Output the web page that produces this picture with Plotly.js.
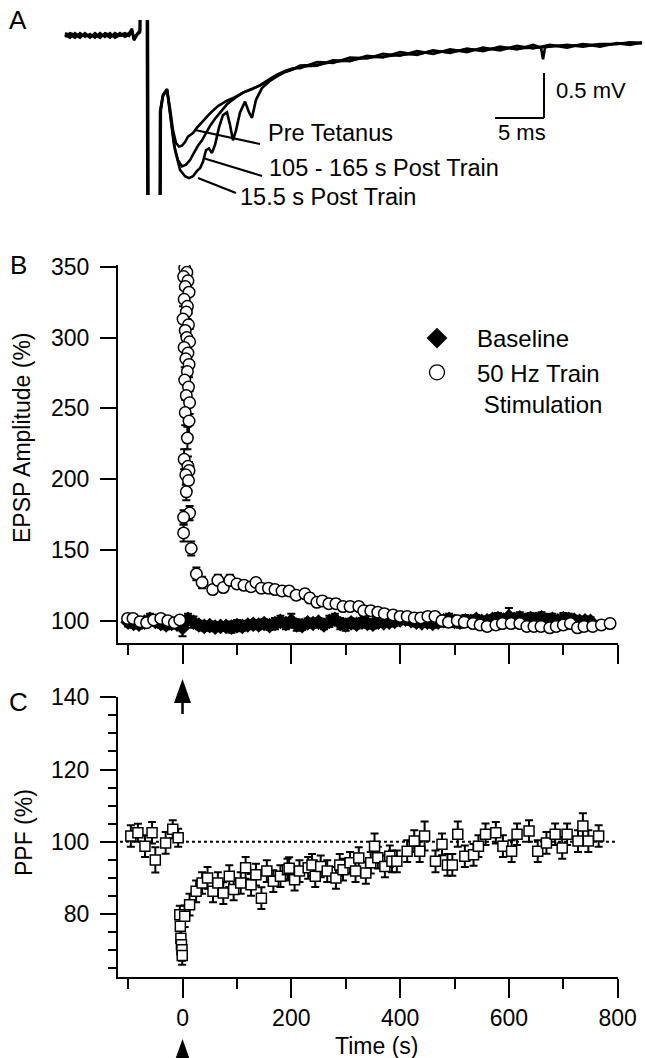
<!DOCTYPE html>
<html><head><meta charset="utf-8">
<script src="https://cdn.plot.ly/plotly-3.0.1.min.js"></script>
<style>html,body{margin:0;padding:0;background:#fff;}#plot{width:645px;height:1058px;}</style>
</head><body><div id="plot"></div>
<script>
// ---------- Panel A: EPSP sweeps (time in ms from stimulus, voltage in mV) ----------
const sweepBaseT = [-8.47,-7.96,-7.45,-6.94,-6.43,-5.92,-5.41,-4.90,-4.39,-3.88,-3.37,-2.86,-2.35,-1.94,-1.63,-1.43,-1.22,-1.02,-0.82];
const tailT = [15.51,17.24,18.88,20.61,22.35,23.98,25.71,27.45,29.08,30.82,32.55,34.18,35.92,37.65,39.29,41.02,42.76,44.39,46.12,47.86,49.18,50.41];

const preT = sweepBaseT.concat([-0.71,-0.10,0.05,1.17,1.28,1.53,
  1.94,2.24,2.55,2.86,3.16,3.47,3.78,4.08,4.59,5.00,5.51,6.33,7.14,8.06,8.88,9.69,10.61,11.43,12.24,13.16,13.98,14.80], tailT);
const preV = [0,-0.03,0.02,-0.02,0.01,-0.03,0.02,-0.02,0.01,-0.03,0.02,-0.01,0,0.02,0.07,-0.06,-0.02,0.02,0.04,
  1.5,1.5,-4,-4,-0.83,-0.67,
  -0.61,-0.81,-1.06,-1.20,-1.24,-1.23,-1.19,-1.13,-1.09,-1.03,-0.97,-0.87,-0.79,-0.73,-0.69,-0.64,-0.60,-0.56,-0.50,-0.44,-0.40,-0.37,
  -0.37,-0.30,-0.31,-0.25,-0.26,-0.21,-0.23,-0.18,-0.21,-0.16,-0.19,-0.14,-0.17,-0.12,-0.15,-0.11,-0.14,-0.10,-0.13,-0.09,-0.11,-0.08];

const midT = sweepBaseT.concat([-0.76,-0.15,0.0,1.12,1.23,1.50,
  1.94,2.24,2.65,3.06,3.47,3.88,4.29,4.69,5.10,5.51,5.92,6.33,6.84,7.35,8.06,8.88,9.69,10.61,11.43,12.24,13.16,13.98,14.80,
  15.51,17.24,18.88,20.61,22.35,23.98,25.71,27.45,29.08,30.82,32.55,34.18,35.92,37.65,39.29,40.10,40.31,40.51,41.02,42.76,44.39,46.12,47.86,49.18,50.41]);
const midV = [0.02,0,-0.03,0.02,-0.02,0.01,-0.03,0.02,-0.02,0.02,-0.03,0,0.02,-0.01,0.05,-0.04,0,0.03,0.05,
  1.5,1.5,-4,-4,-0.85,-0.68,
  -0.61,-0.89,-1.22,-1.39,-1.46,-1.44,-1.39,-1.31,-1.23,-1.17,-1.09,-1.01,-0.93,-0.86,-0.77,-0.70,-0.64,-0.60,-0.56,-0.51,-0.46,-0.41,-0.38,
  -0.35,-0.34,-0.28,-0.29,-0.23,-0.25,-0.19,-0.22,-0.17,-0.20,-0.15,-0.18,-0.13,-0.16,-0.11,-0.14,-0.27,-0.14,-0.12,-0.12,-0.11,-0.11,-0.10,-0.08,-0.09];

const earlyT = sweepBaseT.concat([-0.66,-0.05,0.10,1.20,1.31,1.55,
  1.94,2.35,2.76,3.27,3.78,4.18,4.59,5.00,5.31,5.61,5.92,6.22,6.53,6.84,7.24,7.65,8.06,8.37,8.67,8.98,9.39,9.90,10.31,10.61,11.02,11.63,12.45,13.16,13.98,14.80], tailT);
const earlyV = [-0.02,0.02,0,-0.03,0.02,-0.02,0,-0.03,0.02,0,-0.02,0.02,-0.02,0,0.03,-0.05,-0.01,0.01,0.03,
  1.5,1.5,-4,-4,-0.84,-0.66,
  -0.60,-0.94,-1.28,-1.50,-1.57,-1.59,-1.57,-1.51,-1.48,-1.41,-1.28,-1.26,-1.31,-1.22,-1.03,-0.89,-0.86,-1.00,-1.17,-1.06,-0.86,-0.74,-0.86,-0.92,-0.72,-0.59,-0.51,-0.46,-0.41,-0.38,
  -0.34,-0.33,-0.30,-0.28,-0.25,-0.24,-0.22,-0.21,-0.18,-0.19,-0.16,-0.17,-0.14,-0.15,-0.14,-0.13,-0.11,-0.13,-0.10,-0.10,-0.09,-0.09];

const sweepLabels = ["Pre Tetanus", "105 - 165 s Post Train", "15.5 s Post Train"];
const scaleBarMs = 5, scaleBarMv = 0.5;

// ---------- Panel B: EPSP amplitude (%) ----------
const baselineT = [-100,-90,-80,-70,-60,-50,-40,-30,-20,-10,0,10,20,30,40,50,60,70,80,90,100,110,120,130,140,150,160,170,180,190,200,210,220,230,240,250,260,270,280,290,300,310,320,330,340,350,360,370,380,390,400,410,420,430,440,450,460,470,480,490,500,510,520,530,540,550,560,570,580,590,600,610,620,630,640,650,660,670,680,690,700,710,720,730,740,750];
const baselineV = [99,98,97.5,99,101,99.5,98,97,98,97.5,95,101,99,97,96,96.5,95.5,96,96,95.5,96.5,96,97,97.5,97,98,96.5,98,99.5,98,100,97,96.5,98.5,98,99,97,99.5,101,98,97,98.5,97.5,99,98,97.5,99,98.5,99,99.5,100.5,101,100,99,98.5,99,98,99,100,101,99.5,99,100,99.5,101,99.5,100,101,101.5,100.5,103,101,102,100.5,101.5,101,102,100.5,101,100,101.5,101,100.5,99.5,100,99.5];
const baselineE = [3,3,3,3,4,3,3,3,3,3,6,4,4,3,3,3,3,3,3,4,4,3,3,3,3,3,3,4,4,4,5,4,3,3,3,3,3,4,4,4,4,3,3,3,3,3,3,3,3,3,3,3,3,3,3,3,3,3,4,4,4,4,4,3,3,3,3,3,4,4,6,4,4,4,4,4,4,4,4,3,4,4,3,3,3,3];

const preTrainT = [-101,-91,-78,-66,-53,-40,-27,-15,-5];
const preTrainV = [101.6,101.6,99.3,98.6,100.5,101.6,100,98.6,100.5];
const preTrainE = [2,2,2,2,2,2,2,2,2.5];
const spikeT = [4,8,2,10,5,12,3,9,7,1,11,5,8,13,3,10,6,12,9,4,11,7,13,5,12,9,3,10,12,6,11,7,13,2,2,16];
const spikeV = [349,346,343,340,336,332,327,322,318,313,309,305,300,297,293,289,285,281,276,270,265,259,254,247,241,229,214,209,206,203,199,191,176,173,162,151];
const spikeE = [8,10,9,8,10,9,8,9,8,9,8,9,8,9,8,9,8,9,8,9,8,9,8,9,10,8,7,7,6,7,7,6,5,5,6,5];
const decayT = [25.5,36,55.5,65,75,87,100,113,126,135,145,158,170,183,196,209,225,234,247,257,269,282,295,308,324,333,346,359,371,387,400,413,426,438,451,464,477,489,505,518,534,547,560,576,588,604,620,633,646,659,675,687,700,713,726,738,754,770,786];
const decayV = [133,127,122,128.5,123.4,128.5,126,125,124,127,123,123,122,121,121,118,119,116,113,114,112,112,110,110,110,107,107,106,105,104,103,103,102,102,103,103,100,99,100,99,98,97,96,97,98,98,98,96,96,96,95,96,97,98,95,96,96,97,98];
const decayE = [4.5,4,3,4,3,4,3,3,3,3,3,3,3,3,3,3,3,3,3,3,3,3,3,3,3,3,3,3,3,3,3,3,3,3,3,3,3,3,3,3,3,3,3,3,3,3,3,3,3,3,3,3,3,3,3,3,3,3,3];
const trainT = preTrainT.concat(spikeT, decayT);
const trainV = preTrainV.concat(spikeV, decayV);
const trainE = preTrainE.concat(spikeE, decayE);

// ---------- Panel C: PPF (%) ----------
const ppfT = [-95,-82,-69,-56,-50,-31,-18,-8,-5,-4,-3,-2,-1,-0.5,4,13,25,36,46,56,65,75,86,94,107,116,126,135,145,155,167,180,193,196,206,215,231,238,244,254,266,282,289,295,308,318,324,337,346,353,359,372,381,385,394,413,426,436,445,465,477,487,496,506,519,535,544,557,576,589,605,615,637,653,669,685,698,707,727,736,746,765];
const ppfV = [101.6,102.5,98.8,102.5,95,99.7,103.5,101.1,79.8,76.6,73.3,71.5,70.1,68.5,79.4,82.6,86.3,88.6,90,86.3,88.6,85.8,90.5,86.8,88.6,92.8,88.1,90.9,84.4,91.9,89.1,90.5,92.3,92.7,89.5,91.9,92.8,93.6,90.5,93.2,91.9,90,93.6,92.3,94.2,91.9,95.5,91.4,94.2,98.8,95.6,93.2,96,94.6,94.6,97.4,100.2,97.4,101.6,94.6,99.3,93.6,93.6,102.1,96,96.4,98.8,102.1,102.5,98.8,97.4,102.1,103,97.4,99.7,102.1,98.3,102.1,100.2,104.4,100.2,101.6];
const ppfE = [3,2.5,3,3,3.5,3,2.5,2.5,2.5,2.5,2.5,2.5,3,2.5,3,3,3,3,3,3,3,3,3,3,3,3,3,3,3,3,3,3,3,3,3,3,3,3,3,3,3,3,3,3,3,3,3,3,3,3.5,3,3,3,3,3,3,3,3,4,3,3,3,3,3.5,3,3,3,3,3,3,3,3,3,3,3,3,3,3,3,3.5,3,3];
const ppfReference = 100;

// ---------- layout helpers (page pixels -> paper) ----------
const W = 645, H = 1058;
const px = x => x / W, py = y => 1 - y / H;
const FONT = 'Liberation Sans, Arial, Helvetica, sans-serif';

const lineStyle = {color: 'black', width: 2};
const eb = (arr) => ({type: 'data', array: arr, visible: true, color: 'black', thickness: 2, width: 4});
const sweepLine = {color: 'black', width: 2.6};

const traces = [
  {x: preT, y: preV, xaxis: 'x', yaxis: 'y', mode: 'lines', line: sweepLine, showlegend: false, name: sweepLabels[0]},
  {x: midT, y: midV, xaxis: 'x', yaxis: 'y', mode: 'lines', line: sweepLine, showlegend: false, name: sweepLabels[1]},
  {x: earlyT, y: earlyV, xaxis: 'x', yaxis: 'y', mode: 'lines', line: sweepLine, showlegend: false, name: sweepLabels[2]},
  {x: baselineT, y: baselineV, error_y: eb(baselineE), xaxis: 'x2', yaxis: 'y2', mode: 'markers',
   marker: {symbol: 'diamond', size: 12, color: 'black', line: {width: 0}}, showlegend: false, name: 'Baseline'},
  {x: trainT, y: trainV, error_y: eb(trainE), xaxis: 'x2', yaxis: 'y2', mode: 'markers',
   marker: {symbol: 'circle', size: 11.5, color: 'white', line: {color: 'black', width: 1.5}}, showlegend: false, name: '50 Hz Train'},
  // legend entries
  {x: [null], y: [null], xaxis: 'x2', yaxis: 'y2', mode: 'markers', name: 'Baseline',
   marker: {symbol: 'diamond', size: 16, color: 'black', line: {width: 0}}},
  {x: [null], y: [null], xaxis: 'x2', yaxis: 'y2', mode: 'markers', name: '50 Hz Train<br>\u00A0Stimulation',
   marker: {symbol: 'circle', size: 15, color: 'white', line: {color: 'black', width: 1.3}}},
  {x: ppfT, y: ppfV, error_y: eb(ppfE), xaxis: 'x3', yaxis: 'y3', mode: 'markers',
   marker: {symbol: 'square', size: 10, color: 'white', line: {color: 'black', width: 1.5}}, showlegend: false, name: 'PPF'}
];

const axBase = {showline: true, linecolor: 'black', linewidth: 2, ticks: 'outside', tickcolor: 'black', tickwidth: 2,
  showgrid: false, zeroline: false, fixedrange: true, tickfont: {size: 23, family: FONT, color: 'black'}};

const xRange = [-118.6, 800];
const layout = {
  width: W, height: H, margin: {l: 0, r: 0, t: 0, b: 0, pad: 0},
  paper_bgcolor: 'white', plot_bgcolor: 'rgba(0,0,0,0)',
  font: {family: FONT, size: 23, color: 'black'},
  showlegend: true,
  legend: {x: px(397), y: py(316), xanchor: 'left', yanchor: 'top', bgcolor: 'rgba(0,0,0,0)', borderwidth: 0,
           itemwidth: 70, font: {size: 24, family: FONT, color: 'black'}, valign: 'top', tracegroupgap: 0, itemclick: false},
  xaxis: {domain: [px(60), 1], range: [(60 - 148) / 9.8, (645 - 148) / 9.8], visible: false, fixedrange: true},
  yaxis: {domain: [py(195), py(20)], range: [(35 - 195) / 90, (35 - 20) / 90], visible: false, fixedrange: true},
  xaxis2: Object.assign({}, axBase, {domain: [px(118), px(617.7)], range: xRange, anchor: 'y2',
    tick0: 0, dtick: 200, ticklen: 19, showticklabels: false,
    minor: {ticks: 'outside', dtick: 100, tick0: 0, ticklen: 9.5, tickwidth: 2, tickcolor: 'black', showgrid: false}}),
  yaxis2: Object.assign({}, axBase, {domain: [py(643.3), py(265)], range: [84.05, 351.2], anchor: 'x2',
    tick0: 0, dtick: 50, ticklen: 16, ticklabelstandoff: 6}),
  xaxis3: Object.assign({}, axBase, {domain: [px(118), px(617.7)], range: xRange, anchor: 'y3',
    tick0: 0, dtick: 200, ticklen: 19, ticklabelstandoff: 0,
    minor: {ticks: 'outside', dtick: 100, tick0: 0, ticklen: 9.5, tickwidth: 2, tickcolor: 'black', showgrid: false}}),
  yaxis3: Object.assign({}, axBase, {domain: [py(977.3), py(697.3)], range: [62.5, 140], anchor: 'x3',
    tick0: 0, dtick: 20, ticklen: 16, ticklabelstandoff: 6,
    minor: {ticks: 'outside', dtick: 5, tick0: 0, ticklen: 8, tickwidth: 2, tickcolor: 'black', showgrid: false}}),
  annotations: [
    {text: 'A', x: px(18), y: py(20), xref: 'paper', yref: 'paper', showarrow: false, font: {size: 26}, xanchor: 'center', yanchor: 'middle'},
    {text: 'B', x: px(18), y: py(265), xref: 'paper', yref: 'paper', showarrow: false, font: {size: 26}, xanchor: 'center', yanchor: 'middle'},
    {text: 'C', x: px(18), y: py(702), xref: 'paper', yref: 'paper', showarrow: false, font: {size: 26}, xanchor: 'center', yanchor: 'middle'},
    {text: sweepLabels[0], x: px(266), y: py(133), xref: 'paper', yref: 'paper', showarrow: false, font: {size: 23.5}, xanchor: 'left', yanchor: 'middle'},
    {text: sweepLabels[1], x: px(267), y: py(168), xref: 'paper', yref: 'paper', showarrow: false, font: {size: 23.5}, xanchor: 'left', yanchor: 'middle'},
    {text: sweepLabels[2], x: px(238), y: py(197), xref: 'paper', yref: 'paper', showarrow: false, font: {size: 23.5}, xanchor: 'left', yanchor: 'middle'},
    {text: scaleBarMv + ' mV', x: px(554), y: py(90), xref: 'paper', yref: 'paper', showarrow: false, font: {size: 22}, xanchor: 'left', yanchor: 'middle'},
    {text: scaleBarMs + ' ms', x: px(522), y: py(133), xref: 'paper', yref: 'paper', showarrow: false, font: {size: 22}, xanchor: 'center', yanchor: 'middle'},
    {text: 'EPSP Amplitude (%)', x: px(22), y: py(438), xref: 'paper', yref: 'paper', showarrow: false, textangle: -90, font: {size: 23}, xanchor: 'center', yanchor: 'middle'},
    {text: 'PPF (%)', x: px(24), y: py(833), xref: 'paper', yref: 'paper', showarrow: false, textangle: -90, font: {size: 23}, xanchor: 'center', yanchor: 'middle'},
    {text: 'Time (s)', x: px(376), y: py(1046), xref: 'paper', yref: 'paper', showarrow: false, font: {size: 23}, xanchor: 'center', yanchor: 'middle'}
  ],
  shapes: [
    // pointer lines from sweeps to labels
    {type: 'line', xref: 'paper', yref: 'paper', x0: px(195), y0: py(130), x1: px(260), y1: py(144), line: lineStyle},
    {type: 'line', xref: 'paper', yref: 'paper', x0: px(203), y0: py(158), x1: px(262), y1: py(176), line: lineStyle},
    {type: 'line', xref: 'paper', yref: 'paper', x0: px(198), y0: py(178), x1: px(236), y1: py(193), line: lineStyle},
    // scale bar (data units of panel A)
    {type: 'line', xref: 'x', yref: 'y', x0: 40.41, x1: 40.41, y0: -0.922, y1: -0.922 + scaleBarMv, line: lineStyle},
    {type: 'line', xref: 'x', yref: 'y', x0: 40.41 - scaleBarMs, x1: 40.41, y0: -0.922, y1: -0.922, line: lineStyle},
    // PPF 100% reference
    {type: 'line', xref: 'x3', yref: 'y3', x0: -115, x1: 800, y0: ppfReference, y1: ppfReference, layer: 'below',
     line: {color: 'black', width: 2, dash: 'dot'}},
    // train arrows at t = 0
    {type: 'path', xref: 'x2', xsizemode: 'pixel', xanchor: 0, yref: 'paper',
     path: `M -8.5,${py(703)} L 8.5,${py(703)} L 0,${py(679)} Z`, fillcolor: 'black', line: {width: 0}},
    {type: 'line', xref: 'x2', yref: 'paper', x0: 0, x1: 0, y0: py(700), y1: py(714), line: {color: 'black', width: 2.5}},
    {type: 'path', xref: 'x3', xsizemode: 'pixel', xanchor: 0, yref: 'paper',
     path: `M -8.5,${py(1063)} L 8.5,${py(1063)} L 0,${py(1039)} Z`, fillcolor: 'black', line: {width: 0}}
  ]
};

Plotly.newPlot('plot', traces, layout, {staticPlot: true, displayModeBar: false});
</script></body></html>
